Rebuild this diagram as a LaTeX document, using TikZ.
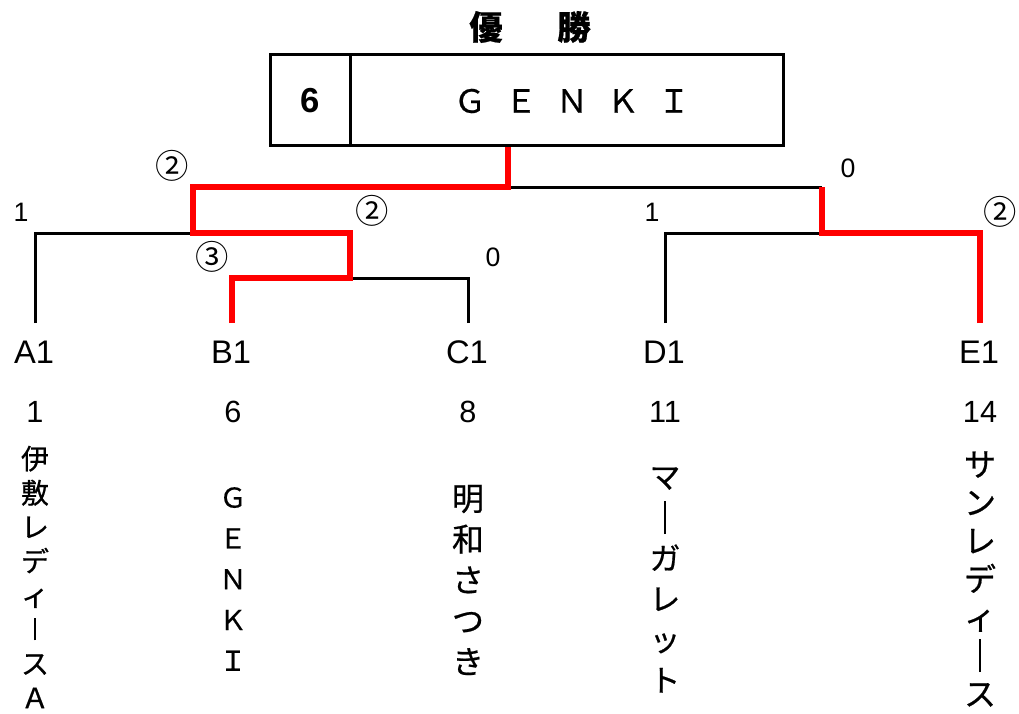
\documentclass[tikz,border=0pt]{standalone}
\usepackage{fontspec}
\setmainfont{Liberation Sans}
\newfontfamily\jp[FakeBold=0.6]{Noto Sans CJK JP}
\newfontfamily\jpc{Noto Sans CJK JP}
\newcommand\tatebo[2]{\rule[#2]{2pt}{#1}}
\newcommand\fw[1]{\makebox[38.25pt]{#1}}
\begin{document}
\begin{tikzpicture}[x=0.75pt,y=-0.75pt,
  blk/.style={line width=2.25pt},
  winln/.style={line width=4.9pt, red},
  boxst/.style={draw, line width=2.25pt, inner sep=0pt, minimum height=67.5pt},
  txt/.style={inner sep=0pt},
  team/.style={inner sep=0pt, font=\fontsize{24.5}{28}\selectfont},
  seedno/.style={inner sep=0pt, font=\fontsize{23}{28}\selectfont},
  score/.style={inner sep=0pt, font=\fontsize{20}{24}\selectfont},
  circ/.style={inner sep=0pt, font=\jpc\fontsize{25}{28}\selectfont},
  vname/.style={inner sep=0pt, align=center},
]
\useasboundingbox (0,0) rectangle (1019,713);
% title and champion box
\node[txt, font=\jp\bfseries\fontsize{25}{30}\selectfont] (title) at (530,27) {優\hspace{41pt}勝};
\node[boxst, minimum width=60pt] (seed) at (310,100) {};
\node[boxst, minimum width=324.75pt] (champ) at (566.5,100) {};
\node[txt, font=\bfseries\fontsize{26}{30}\selectfont] (seedtxt) at (310,101) {6};
\node[txt, font=\jp\fontsize{24}{28}\selectfont] (champtxt) at (572,101) {\fw{Ｇ}\fw{Ｅ}\fw{Ｎ}\fw{Ｋ}\fw{Ｉ}};
% team labels
\node[team] (A1) at (34,352) {A1};
\node[team] (B1) at (231,352) {B1};
\node[team] (C1) at (467,352) {C1};
\node[team] (D1) at (664,352) {D1};
\node[team] (E1) at (979,352) {E1};
\node[seedno] (nA) at (35,412) {1};
\node[seedno] (nB) at (233,412) {6};
\node[seedno] (nC) at (468,412) {8};
\node[seedno] (nD) at (665,412) {11};
\node[seedno] (nE) at (980,412) {14};
\node[vname, font=\jp\fontsize{21}{25.6}\selectfont] (nameA) at (35,577) {伊\\敷\\レ\\デ\\ィ\\\tatebo{16.5pt}{-0.3pt}\\ス\\Ａ};
\node[vname, font=\jp\fontsize{20.5}{30.6}\selectfont] (nameB) at (233,579) {Ｇ\\Ｅ\\Ｎ\\Ｋ\\Ｉ};
\node[vname, font=\jp\fontsize{24}{30.6}\selectfont] (nameC) at (468,580) {明\\和\\さ\\つ\\き};
\node[vname, font=\jp\fontsize{23}{30.5}\selectfont] (nameD) at (665,580) {マ\\\tatebo{25pt}{-3.8pt}\\ガ\\レ\\ッ\\ト};
\node[vname, font=\jp\fontsize{24}{28.7}\selectfont] (nameE) at (980,579) {サ\\ン\\レ\\デ\\ィ\\\tatebo{25pt}{-3.4pt}\\ス};
% bracket coordinates
\coordinate (pa) at (35,323);
\coordinate (pb) at (232,323);
\coordinate (pc) at (468,323);
\coordinate (pd) at (665,323);
\coordinate (pe) at (980,323);
\coordinate (jab) at (193,233);
\coordinate (jbc) at (350,278);
\coordinate (jde) at (822,233);
\coordinate (jtl) at (508,187);
\coordinate (jtr) at (822,187);
% black lines
\draw[blk] (pa) |- (jab);
\draw[blk] (pc) |- (jbc);
\draw[blk] (pd) |- (jde);
\draw[blk] (jtr) -- (jtl);
% winner lines
\draw[winln] (pb) |- (jbc) |- (jab) |- (jtl) -- (jtl |- champ.south);
\draw[winln] (pe) |- (jde) -- (jtr);
% scores
\node[circ] (s1) at (172,166) {②};
\node[score] (s2) at (21,212) {1};
\node[circ] (s3) at (372,211) {②};
\node[circ] (s4) at (212,257) {③};
\node[score] (s5) at (493,257) {0};
\node[score] (s6) at (848,168) {0};
\node[score] (s7) at (652,212) {1};
\node[circ] (s8) at (1000,212) {②};
\end{tikzpicture}
\end{document}
